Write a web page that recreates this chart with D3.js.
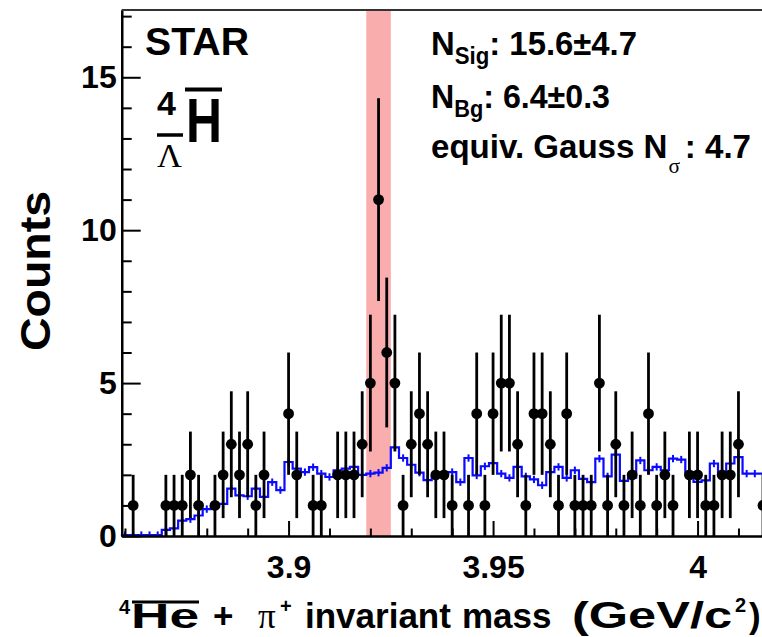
<!DOCTYPE html>
<html>
<head>
<meta charset="utf-8">
<script src="https://cdn.jsdelivr.net/npm/d3@7"></script>
<style>
  body { margin: 0; background: #fff; }
  svg { display: block; }
</style>
</head>
<body>
<script>
// histogram binning (GeV/c^2)
var binLow = 3.859, binWidth = 0.002;

// same-event counts per bin (black points)
var counts = [
    0, 1, 0, 0, 0, 1, 1, 1, 2, 1,
    0, 1, 2, 3, 2, 3, 1, 2, 0, 0,
    4, 2, 0, 1, 1, 0, 2, 2, 2, 3,
    5, 11, 6, 5, 1, 3, 4, 3, 2, 2,
    1, 0, 1, 4, 1, 4, 5, 5, 3, 1,
    4, 4, 3, 1, 4, 1, 1, 1, 5, 1,
    3, 1, 2, 1, 4, 1, 2, 1, 0, 2,
    2, 1, 1, 2, 2, 3, 0, 0, 1
];

// mixed-event background per bin (blue histogram)
var background = [
    0.03, 0.03, 0.03, 0.03, 0.03, 0.2, 0.25, 0.5, 0.55, 0.67,
    0.88, 0.95, 1.05, 1.55, 1.33, 1.3, 1.55, 1.28, 1.76, 1.5,
    2.42, 2.2, 2.09, 2.25, 2.04, 1.93, 2.15, 2.2, 2.26, 2.0,
    2.04, 2.07, 2.23, 2.9, 2.55, 2.33, 2.07, 1.83, 1.95, 2.05,
    2.09, 1.76, 2.55, 1.98, 2.28, 2.38, 2.04, 1.9, 2.26, 1.95,
    1.85, 1.66, 2.09, 2.26, 1.9, 2.15, 1.87, 1.76, 2.53, 1.95,
    2.66, 1.8, 1.91, 2.47, 2.15, 2.26, 2.15, 2.53, 2.5, 2.09,
    1.77, 1.82, 2.37, 2.09, 2.37, 2.58, 2.04, 2.04, 2.04
];
var bgError = 0.12;

var signalWindow = [3.919, 3.925];

var xMajorTicks = [3.9, 3.95, 4.0];
var xTickLabels = ["3.9", "3.95", "4"];
var xMinorTicks = [3.86, 3.87, 3.88, 3.89, 3.91, 3.92, 3.93, 3.94, 3.96, 3.97, 3.98, 3.99, 4.01];
var yMajorTicks = [0, 5, 10, 15];
var yMinorTicks = [1, 2, 3, 4, 6, 7, 8, 9, 11, 12, 13, 14, 16, 17];

(function() {
    var width = 762, height = 637;
    var FONT = "'Liberation Sans', Arial, Helvetica, sans-serif";
    var SERIF = "'Liberation Serif', 'Times New Roman', serif";

    var svg = d3.select("body").append("svg")
        .attr("width", width)
        .attr("height", height);

    var x = d3.scaleLinear().domain([3.8592, 4.0226]).range([121.7, 790]);
    var y = d3.scaleLinear().domain([0, 17.2]).range([536, 10]);

    var bins = counts.map(function(c, i) {
        var lo = binLow + i * binWidth;
        return { lo: lo, hi: lo + binWidth, mid: lo + binWidth / 2, n: c, bg: background[i] };
    });

    // signal window
    svg.append("rect")
        .attr("x", x(signalWindow[0]))
        .attr("y", y.range()[1])
        .attr("width", x(signalWindow[1]) - x(signalWindow[0]))
        .attr("height", y.range()[0] - y.range()[1])
        .attr("fill", "#f9adad");

    // background histogram
    var stepPts = [];
    bins.forEach(function(b) { stepPts.push([b.lo, b.bg], [b.hi, b.bg]); });
    var line = d3.line().x(function(d) { return x(d[0]); }).y(function(d) { return y(d[1]); });
    svg.append("path")
        .attr("d", line(stepPts))
        .attr("fill", "none")
        .attr("stroke", "#0a0aff")
        .attr("stroke-width", 2.2);
    svg.append("g").selectAll("line")
        .data(bins)
        .enter().append("line")
        .attr("x1", function(d) { return x(d.mid); })
        .attr("x2", function(d) { return x(d.mid); })
        .attr("y1", function(d) { return y(Math.max(0, d.bg - bgError)); })
        .attr("y2", function(d) { return y(d.bg + bgError); })
        .attr("stroke", "#0a0aff")
        .attr("stroke-width", 2);

    // data points with sqrt(N) errors
    var filled = bins.filter(function(b) { return b.n > 0; });
    svg.append("g").selectAll("line")
        .data(filled)
        .enter().append("line")
        .attr("x1", function(d) { return x(d.mid); })
        .attr("x2", function(d) { return x(d.mid); })
        .attr("y1", function(d) { return y(d.n - Math.sqrt(d.n)); })
        .attr("y2", function(d) { return y(d.n + Math.sqrt(d.n)); })
        .attr("stroke", "#000")
        .attr("stroke-width", 2.8);
    svg.append("g").selectAll("circle")
        .data(filled)
        .enter().append("circle")
        .attr("cx", function(d) { return x(d.mid); })
        .attr("cy", function(d) { return y(d.n); })
        .attr("r", 5.4)
        .attr("fill", "#000");

    // axes
    svg.append("g")
        .attr("transform", "translate(" + x.range()[0] + ",0)")
        .call(d3.axisLeft(y).tickValues(yMajorTicks).tickSizeInner(-19).tickSizeOuter(0).tickPadding(5));
    svg.append("g")
        .attr("transform", "translate(" + x.range()[0] + ",0)")
        .call(d3.axisLeft(y).tickValues(yMinorTicks).tickSizeInner(-10).tickSizeOuter(0).tickFormat(""));
    svg.append("g")
        .attr("transform", "translate(0," + y.range()[0] + ")")
        .call(d3.axisBottom(x).tickValues(xMajorTicks).tickSizeInner(-15).tickSizeOuter(0).tickPadding(19)
            .tickFormat(function(d, i) { return xTickLabels[i]; }));
    svg.append("g")
        .attr("transform", "translate(0," + y.range()[0] + ")")
        .call(d3.axisBottom(x).tickValues(xMinorTicks).tickSizeInner(-7.5).tickSizeOuter(0).tickFormat(""));

    svg.selectAll(".domain").attr("stroke", "#000").attr("stroke-width", 2.2);
    svg.selectAll(".tick line").attr("stroke", "#000").attr("stroke-width", 2);
    svg.selectAll(".tick text")
        .attr("font-family", FONT)
        .attr("font-weight", "bold")
        .attr("font-size", 32)
        .attr("fill", "#000");

    // top frame
    svg.append("line")
        .attr("x1", x.range()[0]).attr("x2", x.range()[1])
        .attr("y1", y.range()[1]).attr("y2", y.range()[1])
        .attr("stroke", "#333").attr("stroke-width", 2);

    // axis titles
    svg.append("text")
        .attr("transform", "translate(50,271) rotate(-90)")
        .attr("text-anchor", "middle")
        .attr("font-family", FONT).attr("font-weight", "bold").attr("font-size", 42)
        .attr("textLength", 160).attr("lengthAdjust", "spacingAndGlyphs")
        .text("Counts");

    var title = svg.append("g")
        .attr("font-family", FONT).attr("font-weight", "bold").attr("font-size", 35);
    title.append("text").attr("x", 119).attr("y", 614).attr("font-size", 20).text("4");
    title.append("text").attr("x", 131).attr("y", 628)
        .attr("textLength", 68).attr("lengthAdjust", "spacingAndGlyphs").text("He");
    title.append("line").attr("x1", 132).attr("x2", 199).attr("y1", 602).attr("y2", 602)
        .attr("stroke", "#000").attr("stroke-width", 3);
    title.append("text").attr("x", 213).attr("y", 628).text("+");
    title.append("text").attr("x", 258).attr("y", 628)
        .attr("font-family", SERIF).attr("font-weight", "normal").text("\u03c0");
    title.append("text").attr("x", 280).attr("y", 613).attr("font-size", 20).text("+");
    title.append("text").attr("x", 305).attr("y", 628).text("invariant");
    title.append("text").attr("x", 462).attr("y", 628).text("mass");
    title.append("text").attr("x", 572).attr("y", 628).attr("font-size", 37)
        .attr("textLength", 160).attr("lengthAdjust", "spacingAndGlyphs").text("(GeV/c");
    title.append("text").attr("x", 735).attr("y", 612).attr("font-size", 20).text("2");
    title.append("text").attr("x", 749).attr("y", 628).text(")");

    // STAR label
    var lab = svg.append("g").attr("font-family", FONT).attr("font-weight", "bold");
    lab.append("text").attr("x", 145).attr("y", 55).attr("font-size", 38)
        .attr("textLength", 104).attr("lengthAdjust", "spacingAndGlyphs").text("STAR");
    lab.append("text").attr("x", 157).attr("y", 115).attr("font-size", 34).text("4");
    lab.append("line").attr("x1", 157).attr("x2", 183).attr("y1", 135).attr("y2", 135)
        .attr("stroke", "#000").attr("stroke-width", 3.5);
    lab.append("text").attr("x", 157).attr("y", 167).attr("font-size", 34)
        .attr("font-family", SERIF).attr("font-weight", "normal")
        .attr("textLength", 25).attr("lengthAdjust", "spacingAndGlyphs").text("\u039b");
    lab.append("text").attr("x", 186).attr("y", 142).attr("font-size", 63)
        .attr("textLength", 36).attr("lengthAdjust", "spacingAndGlyphs").text("H");
    lab.append("line").attr("x1", 185).attr("x2", 222).attr("y1", 89.5).attr("y2", 89.5)
        .attr("stroke", "#000").attr("stroke-width", 4);

    // fit results
    var st = svg.append("g").attr("font-family", FONT).attr("font-weight", "bold").attr("font-size", 34);
    var t1 = st.append("text").attr("x", 431).attr("y", 55)
        .attr("textLength", 206).attr("lengthAdjust", "spacingAndGlyphs");
    t1.append("tspan").text("N");
    t1.append("tspan").attr("font-size", 23).attr("dy", 9).text("Sig");
    t1.append("tspan").attr("dy", -9).text(": 15.6\u00b14.7");

    var t2 = st.append("text").attr("x", 431).attr("y", 108)
        .attr("textLength", 179).attr("lengthAdjust", "spacingAndGlyphs");
    t2.append("tspan").text("N");
    t2.append("tspan").attr("font-size", 23).attr("dy", 9).text("Bg");
    t2.append("tspan").attr("dy", -9).text(": 6.4\u00b10.3");

    var t3 = st.append("text").attr("x", 431).attr("y", 158)
        .attr("textLength", 320).attr("lengthAdjust", "spacingAndGlyphs");
    t3.append("tspan").text("equiv. Gauss N");
    t3.append("tspan").attr("font-size", 22).attr("dy", 15).attr("dx", 1)
        .attr("font-family", SERIF).attr("font-weight", "normal").text("\u03c3");
    t3.append("tspan").attr("dy", -15).attr("dx", 5).text(": 4.7");
})();
</script>
</body>
</html>
